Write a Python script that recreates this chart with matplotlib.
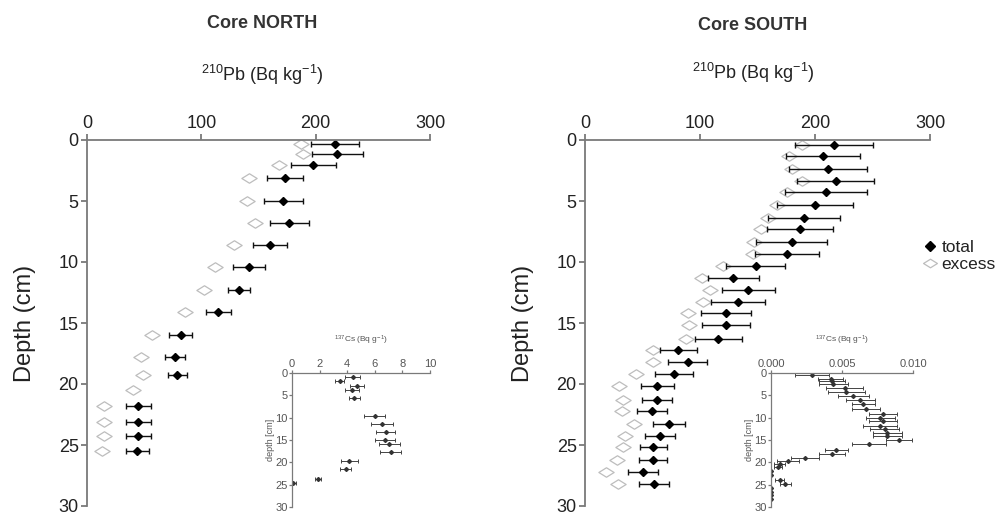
import numpy as np
import matplotlib.pyplot as plt
from matplotlib.lines import Line2D
from matplotlib.path import Path
from matplotlib.ticker import FormatStrFormatter

plt.rcParams['font.family'] = ['Liberation Sans', 'DejaVu Sans']
plt.rcParams['mathtext.fontset'] = 'custom'
plt.rcParams['mathtext.rm'] = 'Liberation Sans'
plt.rcParams['mathtext.it'] = 'Liberation Sans:italic'
plt.rcParams['mathtext.bf'] = 'Liberation Sans:bold'

# Core NORTH, 210Pb (Bq/kg)
north_depth = [0.35, 1.15, 2.07, 3.15, 4.97, 6.8, 8.6, 10.4, 12.3, 14.1, 16.0,
               17.8, 19.3, 20.5, 21.8, 23.1, 24.3, 25.5]
north_total = [217, 219, 198, 173, 171.5, 177, 160, 142, 133, 115, 82, 77, 79,
               np.nan, 45, 45, 45, 44]
north_err = [21, 22, 20, 16, 17, 17, 15, 14, 10, 11, 10, 9, 8.5, np.nan, 11, 11, 11, 10]
north_excess = [187, 189, 168, 142, 140, 147, 129, 112, 102, 86, 57, 47, 49, 40,
                15, 15, 15, 13]

# Core SOUTH, 210Pb (Bq/kg)
south_depth = [0.4, 1.35, 2.4, 3.4, 4.3, 5.3, 6.4, 7.3, 8.35, 9.35, 10.3, 11.3,
               12.3, 13.3, 14.2, 15.2, 16.3, 17.2, 18.2, 19.2, 20.2, 21.3, 22.2,
               23.3, 24.25, 25.2, 26.2, 27.2, 28.2]
south_total = [216.5, 206.7, 211.6, 218, 209.6, 200, 190.4, 187, 179.7, 175.4,
               148.4, 129, 142, 133, 122.6, 122.6, 116, 81, 89.3, 77.4, 63, 63,
               58.5, 73, 65, 59.4, 59, 50.7, 60]
south_err = [34, 32, 34, 33.5, 36, 33, 31, 29, 31, 28, 25.5, 22, 23, 23.5, 21.6,
             20.5, 20.6, 16, 17, 16.5, 14, 13, 13, 14, 13, 11.5, 12, 13, 13]
south_excess = [189, 177, 180, 189, 175.4, 166.7, 159.4, 152.8, 147, 146.4, 119.7,
                101.4, 108.7, 102.3, 89.9, 90.7, 87.8, 58.8, 58.8, 44.3, 29.9,
                33.3, 31.9, 43, 34.8, 32.8, 27.5, 18.3, 29]

# 137Cs insets (Bq/g)
cs_n_depth = [0.9, 1.8, 3.0, 3.9, 5.7, 9.7, 11.4, 13.2, 14.9, 15.8, 17.7, 19.7,
              21.6, 23.7, 24.6]
cs_n = [4.4, 3.45, 4.7, 4.35, 4.5, 6.0, 6.55, 6.8, 6.75, 7.05, 7.15, 4.15, 3.9, 1.9, 0.1]
cs_n_err = [0.55, 0.3, 0.5, 0.5, 0.4, 0.75, 0.8, 0.7, 0.75, 0.75, 0.75, 0.6, 0.4, 0.2, 0.2]

cs_s_depth = [0.5, 1.3, 1.9, 2.5, 3.3, 4.25, 5.1, 6.1, 7.0, 8.0, 9.25, 10.1, 10.7,
              11.9, 12.6, 13.4, 14.1, 14.9, 16.0, 17.2, 18.1, 19.0, 19.7, 20.3,
              21.0, 22.0, 22.8, 23.9, 24.8, 25.8, 26.6, 27.4, 28.2]
cs_s = [0.0029, 0.0042, 0.0043, 0.0044, 0.0052, 0.0053, 0.0058, 0.0063, 0.0065,
        0.0067, 0.0079, 0.0077, 0.0079, 0.0077, 0.0080, 0.0082, 0.0082, 0.0090,
        0.0069, 0.0046, 0.0043, 0.0024, 0.0012, 0.0006, 0.0005, 0, 0, 0.0006,
        0.0010, 0, 0, 0, 0]
cs_s_err = [0.0012, 0.0009, 0.0009, 0.001, 0.0013, 0.0013, 0.0011, 0.001, 0.0008,
            0.001, 0.001, 0.001, 0.001, 0.0012, 0.001, 0.001, 0.001, 0.0009,
            0.0012, 0.0008, 0.0009, 0.001, 0.0008, 0.0004, 0.0003, 0, 0, 0.0003,
            0.0004, 0, 0, 0, 0]

W, H = 1003, 515
spine_col = '#7a7a7a'
text_col = '#222222'
excess_col = '#bdbdbd'

# wide open diamond for "excess"
wide_diamond = Path([(-1, 0), (0, 0.62), (1, 0), (0, -0.62), (-1, 0)],
                    [Path.MOVETO, Path.LINETO, Path.LINETO, Path.LINETO, Path.CLOSEPOLY])


def px_axes(fig, x0, y0, x1, y1):
    return fig.add_axes([x0 / W, 1 - y1 / H, (x1 - x0) / W, (y1 - y0) / H])


def style(ax, xmax, fs, lw, ticklen):
    for s in ['right', 'bottom']:
        ax.spines[s].set_visible(False)
    for s in ['left', 'top']:
        ax.spines[s].set_color(spine_col)
        ax.spines[s].set_linewidth(lw)
    ax.xaxis.tick_top()
    ax.set_xlim(0, xmax)
    ax.set_ylim(30, 0)
    ax.set_yticks([0, 5, 10, 15, 20, 25, 30])
    ax.tick_params(direction='out', length=ticklen, width=lw, color=spine_col,
                   labelsize=fs, labelcolor=text_col, pad=2)
    ax.patch.set_alpha(0)


fig = plt.figure(figsize=(W / 100, H / 100), dpi=100)

for x0, x1, depth, total, err, excess, title, tx, ty, py in [
        (87, 430, north_depth, north_total, north_err, north_excess, 'Core NORTH', 262, 23, 75),
        (585, 930, south_depth, south_total, south_err, south_excess, 'Core SOUTH', 753, 26, 73)]:
    ax = px_axes(fig, x0, 140, x1, 506)
    style(ax, 300, 13, 1.3, 4)
    ax.set_xticks([0, 100, 200, 300])
    ax.plot(excess, depth, linestyle='none', marker=wide_diamond, ms=11,
            mfc='white', mec=excess_col, mew=0.9)
    ax.errorbar(total, depth, xerr=err, fmt='D', ms=4.5, color='black',
                ecolor='#111111', elinewidth=1, capsize=2.5, capthick=1)
    ax.set_ylabel('Depth (cm)', fontsize=17, color=text_col, labelpad=16)
    fig.text(tx / W, 1 - ty / H, title, fontsize=13, fontweight='bold',
             color='#333333', ha='center', va='center')
    fig.text(tx / W, 1 - py / H, r'$^{210}$Pb (Bq kg$^{-1}$)', fontsize=13,
             color=text_col, ha='center', va='center')

# insets
for x0, x1, xmax, ticks, vals, depth, err, fmt, tx in [
        (292, 430, 10, [0, 2, 4, 6, 8, 10], cs_n, cs_n_depth, cs_n_err, '%g', 361),
        (771, 913, 0.010, [0, 0.005, 0.010], cs_s, cs_s_depth, cs_s_err, '%.3f', 842)]:
    ax = px_axes(fig, x0, 373, x1, 507)
    style(ax, xmax, 8, 0.9, 2)
    ax.set_xticks(ticks)
    ax.xaxis.set_major_formatter(FormatStrFormatter(fmt))
    ax.tick_params(labelcolor='#555555', pad=1)
    ax.errorbar(vals, depth, xerr=err, fmt='D', ms=2, color='#333333',
                ecolor='#444444', elinewidth=0.7, capsize=1.5, capthick=0.7)
    ax.set_ylabel('depth [cm]', fontsize=6.5, color='#555555', labelpad=0)
    fig.text(tx / W, 1 - 340 / H, r'$^{137}$Cs (Bq g$^{-1}$)', fontsize=6,
             color='#555555', ha='center', va='center')

handles = [Line2D([], [], linestyle='none', marker='D', ms=5, color='black'),
           Line2D([], [], linestyle='none', marker=wide_diamond, ms=10,
                  mfc='white', mec=excess_col, mew=0.9)]
fig.legend(handles, ['total', 'excess'], loc='upper left',
           bbox_to_anchor=(924 / W, 1 - 240 / H), frameon=False, fontsize=12.5,
           handlelength=0.7, handletextpad=0.3, labelspacing=0.1,
           borderpad=0, borderaxespad=0, labelcolor=text_col)

fig.savefig('out.png', dpi=100)
